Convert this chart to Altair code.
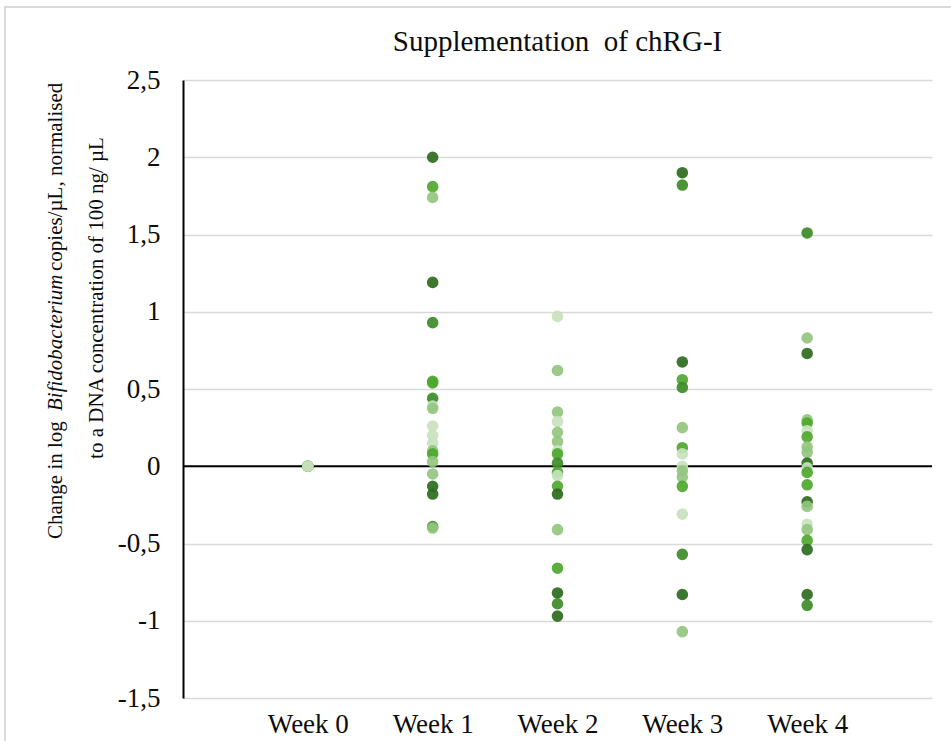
import altair as alt
import pandas as pd

# ---------------- data ----------------
weeks = ["Week 0", "Week 1", "Week 2", "Week 3", "Week 4"]

week0_values = [0.0, 0.0, 0.0, 0.0, 0.0]
week0_shades = ["d", "m", "g", "l", "v"]

week1_values = [2.00, 1.81, 1.74, 1.19, 0.93, 0.55, 0.54, 0.44, 0.39, 0.375, 0.26,
                0.20, 0.15, 0.10, 0.08, 0.03, -0.05, -0.13, -0.18, -0.39, -0.40]
week1_shades = ["d", "g", "l", "d", "m", "g", "g", "m", "v", "l", "v",
                "v", "v", "l", "g", "l", "l", "d", "d", "m", "l"]

week2_values = [0.97, 0.62, 0.35, 0.29, 0.22, 0.16, 0.10, 0.08, 0.02, -0.04, -0.06,
                -0.13, -0.18, -0.41, -0.66, -0.82, -0.89, -0.97]
week2_shades = ["v", "l", "l", "v", "l", "l", "v", "g", "m", "g", "v",
                "g", "d", "l", "g", "d", "m", "d"]

week3_values = [1.90, 1.82, 0.675, 0.56, 0.51, 0.25, 0.12, 0.08, 0.00, -0.03, -0.07,
                -0.13, -0.31, -0.57, -0.83, -1.07]
week3_shades = ["d", "m", "d", "g", "m", "l", "g", "v", "v", "l", "l",
                "g", "v", "m", "d", "l"]

week4_values = [1.51, 0.83, 0.73, 0.30, 0.28, 0.23, 0.19, 0.125, 0.09, 0.02, -0.01,
                -0.04, -0.12, -0.23, -0.26, -0.375, -0.41, -0.48, -0.54, -0.83, -0.90]
week4_shades = ["m", "l", "d", "l", "g", "v", "g", "l", "l", "d", "v",
                "g", "g", "d", "l", "v", "l", "g", "d", "d", "m"]

shade_names = ["d", "m", "g", "l", "v"]
shade_colors = ["#2E6B1E", "#3C8C27", "#4EA72E", "#93C67F", "#C9E2BF"]

y_ticks = [-1.5, -1.0, -0.5, 0.0, 0.5, 1.0, 1.5, 2.0, 2.5]

title_text = "Supplementation\u00a0 of chRG-I"
ytitle_a = "Change in log"
ytitle_b = "Bifidobacterium"
ytitle_c = "copies/µL, normalised"
ytitle_line2 = "to a DNA concentration of 100 ng/ µL"

# ---------------- table ----------------
rows = []
all_weeks = [(week0_values, week0_shades), (week1_values, week1_shades),
             (week2_values, week2_shades), (week3_values, week3_shades),
             (week4_values, week4_shades)]
idx = 0
for wi, (vals, shades) in enumerate(all_weeks):
    for v, s in zip(vals, shades):
        rows.append({"pos": wi + 1, "value": v, "shade": s, "idx": idx})
        idx += 1
df = pd.DataFrame(rows)

W, H = 749, 618
FONT = "Liberation Serif"
TXT = "#0d0d0d"

label_expr = "[" + ",".join("'" + w + "'" for w in weeks) + "][datum.value - 1]"

x_scale = alt.Scale(domain=[0, 6], nice=False, zero=False)
y_scale = alt.Scale(domain=[-1.5, 2.5], nice=False, zero=False)

points = alt.Chart(df).mark_circle(size=135, opacity=0.92).encode(
    x=alt.X("pos:Q", scale=x_scale,
            axis=alt.Axis(values=[1, 2, 3, 4, 5], labelExpr=label_expr, grid=False,
                          domain=False, ticks=False, title=None, labelFont=FONT,
                          labelFontSize=27, labelColor=TXT, labelPadding=13)),
    y=alt.Y("value:Q", scale=y_scale,
            axis=alt.Axis(values=y_ticks,
                          labelExpr="replace(datum.value + '', '.', ',')",
                          grid=True, gridColor="#D9D9D9", gridWidth=1.5,
                          domain=True, domainColor="#000", domainWidth=2,
                          ticks=False, title=None, labelFont=FONT, labelFontSize=27,
                          labelColor=TXT, labelPadding=23)),
    color=alt.Color("shade:N", scale=alt.Scale(domain=shade_names, range=shade_colors),
                    legend=None),
    order=alt.Order("idx:Q"),
)

zero_rule = alt.Chart(pd.DataFrame({"z": [0.0]})).mark_rule(
    color="#000", strokeWidth=2).encode(y=alt.Y("z:Q", scale=y_scale))

title_mark = alt.Chart(pd.DataFrame({"t": [title_text]})).mark_text(
    font=FONT, fontSize=29, color=TXT, align="center", baseline="middle"
).encode(text="t:N", x=alt.value(W / 2), y=alt.value(-38))

def ytxt(txt, ypix, style="normal", align="left", xpix=56):
    return alt.Chart(pd.DataFrame({"t": [txt]})).mark_text(
        font=FONT, fontSize=21, fontStyle=style, color=TXT, angle=270,
        align=align, baseline="middle"
    ).encode(text="t:N", x=alt.value(xpix - 183), y=alt.value(ypix - 80))

yt1 = ytxt(ytitle_a, 539)
yt2 = ytxt(ytitle_b, 411, style="italic")
yt3 = ytxt(ytitle_c, 271)
yt4 = ytxt(ytitle_line2, 298, align="center", xpix=97)

frame = alt.Chart(pd.DataFrame({"f": [0]})).mark_rect(
    fill=None, stroke="#D0D0D0", strokeWidth=1.5
).encode(x=alt.value(5 - 183), x2=alt.value(1000), y=alt.value(7 - 80), y2=alt.value(800))

chart = alt.layer(frame, zero_rule, points, title_mark, yt1, yt2, yt3, yt4).properties(
    width=W, height=H,
    autosize=alt.AutoSizeParams(type="none"),
    padding={"left": 183, "top": 80, "right": 19, "bottom": 43},
    background="white",
).configure_view(strokeWidth=0)

chart.save("out.html", embed_options={"renderer": "svg", "actions": False})
